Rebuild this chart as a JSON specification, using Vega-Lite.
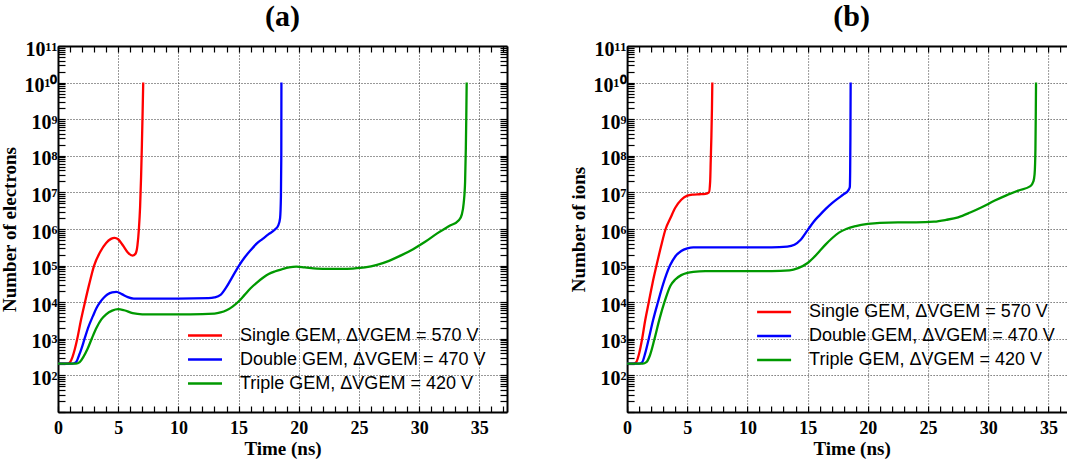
{
  "$schema": "https://vega.github.io/schema/vega-lite/v6.json",
  "padding": {"left": 0, "top": 2, "right": 0, "bottom": 0},
  "spacing": 61.1,
  "background": "white",
  "config": {
    "view": {"stroke": null},
    "font": "Liberation Serif",
    "axis": {
      "domainColor": "black", "domainWidth": 2, "tickColor": "black", "tickWidth": 1.2,
      "labelFont": "Liberation Serif", "labelFontWeight": "bold", "labelFontSize": 18, "labelColor": "black",
      "titleFont": "Liberation Serif", "titleFontWeight": "bold", "titleFontSize": 19, "titleColor": "black",
      "gridColor": "#333333", "gridDash": [1, 2], "gridWidth": 1,
      "labelFlush": false, "labelOverlap": false, "labelBound": false
    },
    "legend": {
      "orient": "none", "title": null, "direction": "vertical",
      "symbolType": "M-3.4,0H3.4", "symbolSize": 100, "symbolStrokeWidth": 2.5,
      "labelFont": "Liberation Sans", "labelFontSize": 18, "labelColor": "black", "labelFontWeight": "normal",
      "labelLimit": 400, "labelOffset": 26, "rowPadding": 6, "padding": 0
    }
  },
  "datasets": {
    "electrons": [
      {"s": "Single GEM, ΔVGEM = 570 V", "t": 0, "n": 2.089e2},
      {"s": "Single GEM, ΔVGEM = 570 V", "t": 0.8, "n": 2.089e2},
      {"s": "Single GEM, ΔVGEM = 570 V", "t": 1.0, "n": 2.291e2},
      {"s": "Single GEM, ΔVGEM = 570 V", "t": 1.2, "n": 3.162e2},
      {"s": "Single GEM, ΔVGEM = 570 V", "t": 1.4, "n": 5.248e2},
      {"s": "Single GEM, ΔVGEM = 570 V", "t": 1.6, "n": 1e3},
      {"s": "Single GEM, ΔVGEM = 570 V", "t": 1.9, "n": 3.162e3},
      {"s": "Single GEM, ΔVGEM = 570 V", "t": 2.24, "n": 1e4},
      {"s": "Single GEM, ΔVGEM = 570 V", "t": 2.6, "n": 3.162e4},
      {"s": "Single GEM, ΔVGEM = 570 V", "t": 3.0, "n": 1e5},
      {"s": "Single GEM, ΔVGEM = 570 V", "t": 3.5, "n": 2.344e5},
      {"s": "Single GEM, ΔVGEM = 570 V", "t": 4.0, "n": 4.169e5},
      {"s": "Single GEM, ΔVGEM = 570 V", "t": 4.4, "n": 5.370e5},
      {"s": "Single GEM, ΔVGEM = 570 V", "t": 4.7, "n": 5.754e5},
      {"s": "Single GEM, ΔVGEM = 570 V", "t": 5.0, "n": 5.248e5},
      {"s": "Single GEM, ΔVGEM = 570 V", "t": 5.4, "n": 3.548e5},
      {"s": "Single GEM, ΔVGEM = 570 V", "t": 5.8, "n": 2.291e5},
      {"s": "Single GEM, ΔVGEM = 570 V", "t": 6.2, "n": 1.862e5},
      {"s": "Single GEM, ΔVGEM = 570 V", "t": 6.45, "n": 2.138e5},
      {"s": "Single GEM, ΔVGEM = 570 V", "t": 6.6, "n": 3.548e5},
      {"s": "Single GEM, ΔVGEM = 570 V", "t": 6.72, "n": 1e6},
      {"s": "Single GEM, ΔVGEM = 570 V", "t": 6.82, "n": 3.981e6},
      {"s": "Single GEM, ΔVGEM = 570 V", "t": 6.9, "n": 2.512e7},
      {"s": "Single GEM, ΔVGEM = 570 V", "t": 6.97, "n": 1.995e8},
      {"s": "Single GEM, ΔVGEM = 570 V", "t": 7.03, "n": 1.585e9},
      {"s": "Single GEM, ΔVGEM = 570 V", "t": 7.08, "n": 1e10},
      {"s": "Double GEM, ΔVGEM = 470 V", "t": 0, "n": 2.089e2},
      {"s": "Double GEM, ΔVGEM = 470 V", "t": 1.2, "n": 2.089e2},
      {"s": "Double GEM, ΔVGEM = 470 V", "t": 1.5, "n": 2.291e2},
      {"s": "Double GEM, ΔVGEM = 470 V", "t": 1.75, "n": 3.548e2},
      {"s": "Double GEM, ΔVGEM = 470 V", "t": 2.0, "n": 6.026e2},
      {"s": "Double GEM, ΔVGEM = 470 V", "t": 2.16, "n": 8.913e2},
      {"s": "Double GEM, ΔVGEM = 470 V", "t": 2.5, "n": 1.995e3},
      {"s": "Double GEM, ΔVGEM = 470 V", "t": 2.9, "n": 4.169e3},
      {"s": "Double GEM, ΔVGEM = 470 V", "t": 3.2, "n": 6.918e3},
      {"s": "Double GEM, ΔVGEM = 470 V", "t": 3.5, "n": 1e4},
      {"s": "Double GEM, ΔVGEM = 470 V", "t": 3.8, "n": 1.318e4},
      {"s": "Double GEM, ΔVGEM = 470 V", "t": 4.1, "n": 1.622e4},
      {"s": "Double GEM, ΔVGEM = 470 V", "t": 4.5, "n": 1.862e4},
      {"s": "Double GEM, ΔVGEM = 470 V", "t": 4.85, "n": 1.905e4},
      {"s": "Double GEM, ΔVGEM = 470 V", "t": 5.3, "n": 1.660e4},
      {"s": "Double GEM, ΔVGEM = 470 V", "t": 5.8, "n": 1.380e4},
      {"s": "Double GEM, ΔVGEM = 470 V", "t": 6.3, "n": 1.259e4},
      {"s": "Double GEM, ΔVGEM = 470 V", "t": 8, "n": 1.259e4},
      {"s": "Double GEM, ΔVGEM = 470 V", "t": 10, "n": 1.259e4},
      {"s": "Double GEM, ΔVGEM = 470 V", "t": 12.5, "n": 1.288e4},
      {"s": "Double GEM, ΔVGEM = 470 V", "t": 13.0, "n": 1.349e4},
      {"s": "Double GEM, ΔVGEM = 470 V", "t": 13.5, "n": 1.585e4},
      {"s": "Double GEM, ΔVGEM = 470 V", "t": 14.0, "n": 2.630e4},
      {"s": "Double GEM, ΔVGEM = 470 V", "t": 14.5, "n": 5.012e4},
      {"s": "Double GEM, ΔVGEM = 470 V", "t": 15.0, "n": 9.550e4},
      {"s": "Double GEM, ΔVGEM = 470 V", "t": 15.5, "n": 1.660e5},
      {"s": "Double GEM, ΔVGEM = 470 V", "t": 16.0, "n": 2.630e5},
      {"s": "Double GEM, ΔVGEM = 470 V", "t": 16.5, "n": 3.981e5},
      {"s": "Double GEM, ΔVGEM = 470 V", "t": 17.0, "n": 5.370e5},
      {"s": "Double GEM, ΔVGEM = 470 V", "t": 17.5, "n": 7.244e5},
      {"s": "Double GEM, ΔVGEM = 470 V", "t": 18.0, "n": 9.550e5},
      {"s": "Double GEM, ΔVGEM = 470 V", "t": 18.3, "n": 1.259e6},
      {"s": "Double GEM, ΔVGEM = 470 V", "t": 18.45, "n": 1.995e6},
      {"s": "Double GEM, ΔVGEM = 470 V", "t": 18.52, "n": 7.943e6},
      {"s": "Double GEM, ΔVGEM = 470 V", "t": 18.55, "n": 1e8},
      {"s": "Double GEM, ΔVGEM = 470 V", "t": 18.56, "n": 1e10},
      {"s": "Triple GEM, ΔVGEM = 420 V", "t": 0, "n": 2.089e2},
      {"s": "Triple GEM, ΔVGEM = 420 V", "t": 1.5, "n": 2.089e2},
      {"s": "Triple GEM, ΔVGEM = 420 V", "t": 1.8, "n": 2.291e2},
      {"s": "Triple GEM, ΔVGEM = 420 V", "t": 2.1, "n": 3.162e2},
      {"s": "Triple GEM, ΔVGEM = 420 V", "t": 2.45, "n": 5.248e2},
      {"s": "Triple GEM, ΔVGEM = 420 V", "t": 2.8, "n": 1e3},
      {"s": "Triple GEM, ΔVGEM = 420 V", "t": 3.2, "n": 1.995e3},
      {"s": "Triple GEM, ΔVGEM = 420 V", "t": 3.6, "n": 3.388e3},
      {"s": "Triple GEM, ΔVGEM = 420 V", "t": 4.0, "n": 4.677e3},
      {"s": "Triple GEM, ΔVGEM = 420 V", "t": 4.5, "n": 5.888e3},
      {"s": "Triple GEM, ΔVGEM = 420 V", "t": 5.0, "n": 6.457e3},
      {"s": "Triple GEM, ΔVGEM = 420 V", "t": 5.5, "n": 6.026e3},
      {"s": "Triple GEM, ΔVGEM = 420 V", "t": 6.2, "n": 5.012e3},
      {"s": "Triple GEM, ΔVGEM = 420 V", "t": 7.0, "n": 4.677e3},
      {"s": "Triple GEM, ΔVGEM = 420 V", "t": 9, "n": 4.677e3},
      {"s": "Triple GEM, ΔVGEM = 420 V", "t": 11, "n": 4.677e3},
      {"s": "Triple GEM, ΔVGEM = 420 V", "t": 13.0, "n": 4.898e3},
      {"s": "Triple GEM, ΔVGEM = 420 V", "t": 13.5, "n": 5.248e3},
      {"s": "Triple GEM, ΔVGEM = 420 V", "t": 14.0, "n": 6.026e3},
      {"s": "Triple GEM, ΔVGEM = 420 V", "t": 14.5, "n": 7.586e3},
      {"s": "Triple GEM, ΔVGEM = 420 V", "t": 15.0, "n": 1.047e4},
      {"s": "Triple GEM, ΔVGEM = 420 V", "t": 15.5, "n": 1.585e4},
      {"s": "Triple GEM, ΔVGEM = 420 V", "t": 16.0, "n": 2.399e4},
      {"s": "Triple GEM, ΔVGEM = 420 V", "t": 16.5, "n": 3.388e4},
      {"s": "Triple GEM, ΔVGEM = 420 V", "t": 17.0, "n": 4.571e4},
      {"s": "Triple GEM, ΔVGEM = 420 V", "t": 17.5, "n": 5.888e4},
      {"s": "Triple GEM, ΔVGEM = 420 V", "t": 18.0, "n": 6.918e4},
      {"s": "Triple GEM, ΔVGEM = 420 V", "t": 18.6, "n": 7.943e4},
      {"s": "Triple GEM, ΔVGEM = 420 V", "t": 19.2, "n": 8.913e4},
      {"s": "Triple GEM, ΔVGEM = 420 V", "t": 19.8, "n": 9.333e4},
      {"s": "Triple GEM, ΔVGEM = 420 V", "t": 20.5, "n": 8.913e4},
      {"s": "Triple GEM, ΔVGEM = 420 V", "t": 21.5, "n": 8.318e4},
      {"s": "Triple GEM, ΔVGEM = 420 V", "t": 22.5, "n": 8.128e4},
      {"s": "Triple GEM, ΔVGEM = 420 V", "t": 23.5, "n": 8.128e4},
      {"s": "Triple GEM, ΔVGEM = 420 V", "t": 24.5, "n": 8.318e4},
      {"s": "Triple GEM, ΔVGEM = 420 V", "t": 25.5, "n": 8.913e4},
      {"s": "Triple GEM, ΔVGEM = 420 V", "t": 26.5, "n": 1.047e5},
      {"s": "Triple GEM, ΔVGEM = 420 V", "t": 27.5, "n": 1.349e5},
      {"s": "Triple GEM, ΔVGEM = 420 V", "t": 28.5, "n": 1.905e5},
      {"s": "Triple GEM, ΔVGEM = 420 V", "t": 29.5, "n": 2.818e5},
      {"s": "Triple GEM, ΔVGEM = 420 V", "t": 30.5, "n": 4.467e5},
      {"s": "Triple GEM, ΔVGEM = 420 V", "t": 31.5, "n": 7.586e5},
      {"s": "Triple GEM, ΔVGEM = 420 V", "t": 32.5, "n": 1.202e6},
      {"s": "Triple GEM, ΔVGEM = 420 V", "t": 33.3, "n": 1.738e6},
      {"s": "Triple GEM, ΔVGEM = 420 V", "t": 33.55, "n": 2.512e6},
      {"s": "Triple GEM, ΔVGEM = 420 V", "t": 33.7, "n": 5.012e6},
      {"s": "Triple GEM, ΔVGEM = 420 V", "t": 33.82, "n": 1.995e7},
      {"s": "Triple GEM, ΔVGEM = 420 V", "t": 33.88, "n": 1.585e8},
      {"s": "Triple GEM, ΔVGEM = 420 V", "t": 33.92, "n": 1.259e9},
      {"s": "Triple GEM, ΔVGEM = 420 V", "t": 33.95, "n": 1e10}
    ],
    "ions": [
      {"s": "Single GEM, ΔVGEM = 570 V", "t": 0, "n": 2.089e2},
      {"s": "Single GEM, ΔVGEM = 570 V", "t": 0.5, "n": 2.089e2},
      {"s": "Single GEM, ΔVGEM = 570 V", "t": 0.75, "n": 2.291e2},
      {"s": "Single GEM, ΔVGEM = 570 V", "t": 1.0, "n": 3.981e2},
      {"s": "Single GEM, ΔVGEM = 570 V", "t": 1.25, "n": 1e3},
      {"s": "Single GEM, ΔVGEM = 570 V", "t": 1.5, "n": 3.162e3},
      {"s": "Single GEM, ΔVGEM = 570 V", "t": 1.8, "n": 1e4},
      {"s": "Single GEM, ΔVGEM = 570 V", "t": 2.1, "n": 3.162e4},
      {"s": "Single GEM, ΔVGEM = 570 V", "t": 2.44, "n": 1e5},
      {"s": "Single GEM, ΔVGEM = 570 V", "t": 2.8, "n": 3.162e5},
      {"s": "Single GEM, ΔVGEM = 570 V", "t": 3.2, "n": 1e6},
      {"s": "Single GEM, ΔVGEM = 570 V", "t": 3.6, "n": 1.995e6},
      {"s": "Single GEM, ΔVGEM = 570 V", "t": 4.0, "n": 3.802e6},
      {"s": "Single GEM, ΔVGEM = 570 V", "t": 4.5, "n": 6.310e6},
      {"s": "Single GEM, ΔVGEM = 570 V", "t": 5.0, "n": 8.128e6},
      {"s": "Single GEM, ΔVGEM = 570 V", "t": 5.5, "n": 8.710e6},
      {"s": "Single GEM, ΔVGEM = 570 V", "t": 6.0, "n": 8.913e6},
      {"s": "Single GEM, ΔVGEM = 570 V", "t": 6.5, "n": 9.120e6},
      {"s": "Single GEM, ΔVGEM = 570 V", "t": 6.8, "n": 1e7},
      {"s": "Single GEM, ΔVGEM = 570 V", "t": 6.9, "n": 1.995e7},
      {"s": "Single GEM, ΔVGEM = 570 V", "t": 6.95, "n": 7.943e7},
      {"s": "Single GEM, ΔVGEM = 570 V", "t": 7.0, "n": 3.162e8},
      {"s": "Single GEM, ΔVGEM = 570 V", "t": 7.05, "n": 1.995e9},
      {"s": "Single GEM, ΔVGEM = 570 V", "t": 7.08, "n": 1e10},
      {"s": "Double GEM, ΔVGEM = 470 V", "t": 0, "n": 2.089e2},
      {"s": "Double GEM, ΔVGEM = 470 V", "t": 1.0, "n": 2.089e2},
      {"s": "Double GEM, ΔVGEM = 470 V", "t": 1.25, "n": 2.291e2},
      {"s": "Double GEM, ΔVGEM = 470 V", "t": 1.5, "n": 3.981e2},
      {"s": "Double GEM, ΔVGEM = 470 V", "t": 1.8, "n": 1e3},
      {"s": "Double GEM, ΔVGEM = 470 V", "t": 2.15, "n": 3.162e3},
      {"s": "Double GEM, ΔVGEM = 470 V", "t": 2.56, "n": 1e4},
      {"s": "Double GEM, ΔVGEM = 470 V", "t": 3.0, "n": 3.162e4},
      {"s": "Double GEM, ΔVGEM = 470 V", "t": 3.56, "n": 1e5},
      {"s": "Double GEM, ΔVGEM = 470 V", "t": 4.0, "n": 1.778e5},
      {"s": "Double GEM, ΔVGEM = 470 V", "t": 4.5, "n": 2.512e5},
      {"s": "Double GEM, ΔVGEM = 470 V", "t": 5.0, "n": 2.951e5},
      {"s": "Double GEM, ΔVGEM = 470 V", "t": 5.5, "n": 3.162e5},
      {"s": "Double GEM, ΔVGEM = 470 V", "t": 6.5, "n": 3.162e5},
      {"s": "Double GEM, ΔVGEM = 470 V", "t": 9, "n": 3.162e5},
      {"s": "Double GEM, ΔVGEM = 470 V", "t": 12, "n": 3.162e5},
      {"s": "Double GEM, ΔVGEM = 470 V", "t": 13.3, "n": 3.311e5},
      {"s": "Double GEM, ΔVGEM = 470 V", "t": 13.9, "n": 3.715e5},
      {"s": "Double GEM, ΔVGEM = 470 V", "t": 14.4, "n": 5.012e5},
      {"s": "Double GEM, ΔVGEM = 470 V", "t": 15.0, "n": 9.333e5},
      {"s": "Double GEM, ΔVGEM = 470 V", "t": 15.5, "n": 1.585e6},
      {"s": "Double GEM, ΔVGEM = 470 V", "t": 16.0, "n": 2.399e6},
      {"s": "Double GEM, ΔVGEM = 470 V", "t": 16.5, "n": 3.548e6},
      {"s": "Double GEM, ΔVGEM = 470 V", "t": 17.0, "n": 5.012e6},
      {"s": "Double GEM, ΔVGEM = 470 V", "t": 17.5, "n": 6.761e6},
      {"s": "Double GEM, ΔVGEM = 470 V", "t": 18.0, "n": 8.913e6},
      {"s": "Double GEM, ΔVGEM = 470 V", "t": 18.4, "n": 1.175e7},
      {"s": "Double GEM, ΔVGEM = 470 V", "t": 18.5, "n": 1.413e7},
      {"s": "Double GEM, ΔVGEM = 470 V", "t": 18.53, "n": 3.981e7},
      {"s": "Double GEM, ΔVGEM = 470 V", "t": 18.55, "n": 3.162e8},
      {"s": "Double GEM, ΔVGEM = 470 V", "t": 18.57, "n": 1e10},
      {"s": "Triple GEM, ΔVGEM = 420 V", "t": 0, "n": 2.089e2},
      {"s": "Triple GEM, ΔVGEM = 420 V", "t": 1.3, "n": 2.089e2},
      {"s": "Triple GEM, ΔVGEM = 420 V", "t": 1.6, "n": 2.291e2},
      {"s": "Triple GEM, ΔVGEM = 420 V", "t": 1.9, "n": 3.548e2},
      {"s": "Triple GEM, ΔVGEM = 420 V", "t": 2.28, "n": 1e3},
      {"s": "Triple GEM, ΔVGEM = 420 V", "t": 2.7, "n": 3.548e3},
      {"s": "Triple GEM, ΔVGEM = 420 V", "t": 3.1, "n": 1e4},
      {"s": "Triple GEM, ΔVGEM = 420 V", "t": 3.6, "n": 2.818e4},
      {"s": "Triple GEM, ΔVGEM = 420 V", "t": 4.0, "n": 4.169e4},
      {"s": "Triple GEM, ΔVGEM = 420 V", "t": 4.5, "n": 5.495e4},
      {"s": "Triple GEM, ΔVGEM = 420 V", "t": 5.0, "n": 6.310e4},
      {"s": "Triple GEM, ΔVGEM = 420 V", "t": 5.5, "n": 6.761e4},
      {"s": "Triple GEM, ΔVGEM = 420 V", "t": 6.5, "n": 7.079e4},
      {"s": "Triple GEM, ΔVGEM = 420 V", "t": 9, "n": 7.079e4},
      {"s": "Triple GEM, ΔVGEM = 420 V", "t": 12, "n": 7.079e4},
      {"s": "Triple GEM, ΔVGEM = 420 V", "t": 13.5, "n": 7.413e4},
      {"s": "Triple GEM, ΔVGEM = 420 V", "t": 14.2, "n": 8.511e4},
      {"s": "Triple GEM, ΔVGEM = 420 V", "t": 15.0, "n": 1.175e5},
      {"s": "Triple GEM, ΔVGEM = 420 V", "t": 15.5, "n": 1.660e5},
      {"s": "Triple GEM, ΔVGEM = 420 V", "t": 16.0, "n": 2.512e5},
      {"s": "Triple GEM, ΔVGEM = 420 V", "t": 16.5, "n": 3.802e5},
      {"s": "Triple GEM, ΔVGEM = 420 V", "t": 17.0, "n": 5.495e5},
      {"s": "Triple GEM, ΔVGEM = 420 V", "t": 17.6, "n": 7.943e5},
      {"s": "Triple GEM, ΔVGEM = 420 V", "t": 18.2, "n": 1e6},
      {"s": "Triple GEM, ΔVGEM = 420 V", "t": 19.0, "n": 1.202e6},
      {"s": "Triple GEM, ΔVGEM = 420 V", "t": 20.0, "n": 1.380e6},
      {"s": "Triple GEM, ΔVGEM = 420 V", "t": 21.0, "n": 1.479e6},
      {"s": "Triple GEM, ΔVGEM = 420 V", "t": 22.5, "n": 1.514e6},
      {"s": "Triple GEM, ΔVGEM = 420 V", "t": 24.0, "n": 1.514e6},
      {"s": "Triple GEM, ΔVGEM = 420 V", "t": 25.5, "n": 1.585e6},
      {"s": "Triple GEM, ΔVGEM = 420 V", "t": 26.5, "n": 1.778e6},
      {"s": "Triple GEM, ΔVGEM = 420 V", "t": 27.5, "n": 2.089e6},
      {"s": "Triple GEM, ΔVGEM = 420 V", "t": 28.5, "n": 2.818e6},
      {"s": "Triple GEM, ΔVGEM = 420 V", "t": 29.5, "n": 3.981e6},
      {"s": "Triple GEM, ΔVGEM = 420 V", "t": 30.5, "n": 5.888e6},
      {"s": "Triple GEM, ΔVGEM = 420 V", "t": 31.5, "n": 8.318e6},
      {"s": "Triple GEM, ΔVGEM = 420 V", "t": 32.5, "n": 1.122e7},
      {"s": "Triple GEM, ΔVGEM = 420 V", "t": 33.5, "n": 1.479e7},
      {"s": "Triple GEM, ΔVGEM = 420 V", "t": 33.75, "n": 1.995e7},
      {"s": "Triple GEM, ΔVGEM = 420 V", "t": 33.85, "n": 3.162e7},
      {"s": "Triple GEM, ΔVGEM = 420 V", "t": 33.92, "n": 1.585e8},
      {"s": "Triple GEM, ΔVGEM = 420 V", "t": 33.95, "n": 1.585e9},
      {"s": "Triple GEM, ΔVGEM = 420 V", "t": 33.97, "n": 1e10}
    ]
  },
  "resolve": {"scale": {"color": "independent"}, "legend": {"color": "independent"}},
  "hconcat": [
    {
      "width": 449,
      "height": 366,
      "title": {"text": "(a)", "font": "Liberation Serif", "fontSize": 30, "fontWeight": "bold", "color": "black", "frame": "group", "anchor": "middle", "baseline": "alphabetic", "offset": -17},
      "data": {"name": "electrons"},
      "resolve": {"axis": {"x": "independent", "y": "independent"}},
      "layer": [
        {
          "transform": [{"filter": "datum.s != 'Triple GEM, ΔVGEM = 420 V'"}],
          "mark": {"type": "line", "interpolate": "monotone", "strokeWidth": 2.3},
          "encoding": {
            "x": {"field": "t", "type": "quantitative",
              "scale": {"domain": [0, 37.3], "nice": false, "zero": false},
              "axis": {"orient": "bottom", "title": "Time (ns)", "titlePadding": 2,
                "values": [0,1,2,3,4,5,6,7,8,9,10,11,12,13,14,15,16,17,18,19,20,21,22,23,24,25,26,27,28,29,30,31,32,33,34,35,36,37],
                "labelExpr": "datum.value % 5 == 0 ? datum.label : ''",
                "grid": true,
                "gridOpacity": {"condition": {"test": "datum.value % 5 == 0", "value": 1}, "value": 0},
                "tickSize": -6,
                "labelPadding": 13.5}},
            "y": {"field": "n", "type": "quantitative",
              "scale": {"type": "log", "domain": [10, 1e11], "nice": false},
              "axis": {"orient": "left", "title": "Number of electrons", "titlePadding": 5,
                "values": [1e1,2e1,3e1,4e1,5e1,6e1,7e1,8e1,9e1,1e2,2e2,3e2,4e2,5e2,6e2,7e2,8e2,9e2,1e3,2e3,3e3,4e3,5e3,6e3,7e3,8e3,9e3,1e4,2e4,3e4,4e4,5e4,6e4,7e4,8e4,9e4,1e5,2e5,3e5,4e5,5e5,6e5,7e5,8e5,9e5,1e6,2e6,3e6,4e6,5e6,6e6,7e6,8e6,9e6,1e7,2e7,3e7,4e7,5e7,6e7,7e7,8e7,9e7,1e8,2e8,3e8,4e8,5e8,6e8,7e8,8e8,9e8,1e9,2e9,3e9,4e9,5e9,6e9,7e9,8e9,9e9,1e10,2e10,3e10,4e10,5e10,6e10,7e10,8e10,9e10,1e11],
                "labelExpr": "(abs(log(datum.value)/LN10 - round(log(datum.value)/LN10)) < 0.001 && round(log(datum.value)/LN10) >= 2) ? '10' + (round(log(datum.value)/LN10) >= 10 ? '¹' + substring('⁰¹²³⁴⁵⁶⁷⁸⁹', round(log(datum.value)/LN10) - 10, round(log(datum.value)/LN10) - 9) : substring('⁰¹²³⁴⁵⁶⁷⁸⁹', round(log(datum.value)/LN10), round(log(datum.value)/LN10) + 1)) : ''",
                "grid": true,
                "gridOpacity": {"condition": {"test": "abs(log(datum.value)/LN10 - round(log(datum.value)/LN10)) < 0.001", "value": 1}, "value": 0},
                "tickSize": -7,
                "labelFontSize": 20,
                "labelPadding": 8, "labelBaseline": "middle", "labelOffset": 3}},
            "color": {"field": "s", "type": "nominal",
              "scale": {"domain": ["Single GEM, ΔVGEM = 570 V", "Double GEM, ΔVGEM = 470 V", "Triple GEM, ΔVGEM = 420 V"], "range": ["#ff0000", "#0000ff", "#009900"]},
              "legend": {"legendX": 138, "legendY": 280.5}}
          }
        },
        {
          "transform": [{"filter": "datum.s == 'Triple GEM, ΔVGEM = 420 V'"}],
          "mark": {"type": "line", "interpolate": "monotone", "strokeWidth": 2.3},
          "encoding": {
            "x": {"field": "t", "type": "quantitative",
              "scale": {"domain": [0, 37.3], "nice": false, "zero": false},
              "axis": {"orient": "top", "title": null, "labels": false, "grid": false,
                "values": [0,1,2,3,4,5,6,7,8,9,10,11,12,13,14,15,16,17,18,19,20,21,22,23,24,25,26,27,28,29,30,31,32,33,34,35,36,37],
                "tickSize": -6}},
            "y": {"field": "n", "type": "quantitative",
              "scale": {"type": "log", "domain": [10, 1e11], "nice": false},
              "axis": {"orient": "right", "title": null, "labels": false, "grid": false,
                "values": [1e1,2e1,3e1,4e1,5e1,6e1,7e1,8e1,9e1,1e2,2e2,3e2,4e2,5e2,6e2,7e2,8e2,9e2,1e3,2e3,3e3,4e3,5e3,6e3,7e3,8e3,9e3,1e4,2e4,3e4,4e4,5e4,6e4,7e4,8e4,9e4,1e5,2e5,3e5,4e5,5e5,6e5,7e5,8e5,9e5,1e6,2e6,3e6,4e6,5e6,6e6,7e6,8e6,9e6,1e7,2e7,3e7,4e7,5e7,6e7,7e7,8e7,9e7,1e8,2e8,3e8,4e8,5e8,6e8,7e8,8e8,9e8,1e9,2e9,3e9,4e9,5e9,6e9,7e9,8e9,9e9,1e10,2e10,3e10,4e10,5e10,6e10,7e10,8e10,9e10,1e11],
                "tickSize": -7}},
            "color": {"field": "s", "type": "nominal",
              "scale": {"domain": ["Single GEM, ΔVGEM = 570 V", "Double GEM, ΔVGEM = 470 V", "Triple GEM, ΔVGEM = 420 V"], "range": ["#ff0000", "#0000ff", "#009900"]},
              "legend": {"legendX": 138, "legendY": 280.5}}
          }
        }
      ]
    },
    {
      "width": 440,
      "height": 366,
      "title": {"text": "(b)", "font": "Liberation Serif", "fontSize": 30, "fontWeight": "bold", "color": "black", "frame": "group", "anchor": "middle", "baseline": "alphabetic", "offset": -17, "dx": 4.5},
      "data": {"name": "ions"},
      "resolve": {"axis": {"x": "independent", "y": "independent"}},
      "layer": [
        {
          "transform": [{"filter": "datum.s != 'Triple GEM, ΔVGEM = 420 V'"}],
          "mark": {"type": "line", "interpolate": "monotone", "strokeWidth": 2.3},
          "encoding": {
            "x": {"field": "t", "type": "quantitative",
              "scale": {"domain": [0, 36.55], "nice": false, "zero": false},
              "axis": {"orient": "bottom", "title": "Time (ns)", "titlePadding": 2, "titleX": 224.5,
                "values": [0,1,2,3,4,5,6,7,8,9,10,11,12,13,14,15,16,17,18,19,20,21,22,23,24,25,26,27,28,29,30,31,32,33,34,35,36],
                "labelExpr": "datum.value % 5 == 0 ? datum.label : ''",
                "grid": true,
                "gridOpacity": {"condition": {"test": "datum.value % 5 == 0", "value": 1}, "value": 0},
                "tickSize": -6,
                "labelPadding": 13.5}},
            "y": {"field": "n", "type": "quantitative",
              "scale": {"type": "log", "domain": [10, 1e11], "nice": false},
              "axis": {"orient": "left", "title": "Number of ions", "titlePadding": 5,
                "values": [1e1,2e1,3e1,4e1,5e1,6e1,7e1,8e1,9e1,1e2,2e2,3e2,4e2,5e2,6e2,7e2,8e2,9e2,1e3,2e3,3e3,4e3,5e3,6e3,7e3,8e3,9e3,1e4,2e4,3e4,4e4,5e4,6e4,7e4,8e4,9e4,1e5,2e5,3e5,4e5,5e5,6e5,7e5,8e5,9e5,1e6,2e6,3e6,4e6,5e6,6e6,7e6,8e6,9e6,1e7,2e7,3e7,4e7,5e7,6e7,7e7,8e7,9e7,1e8,2e8,3e8,4e8,5e8,6e8,7e8,8e8,9e8,1e9,2e9,3e9,4e9,5e9,6e9,7e9,8e9,9e9,1e10,2e10,3e10,4e10,5e10,6e10,7e10,8e10,9e10,1e11],
                "labelExpr": "(abs(log(datum.value)/LN10 - round(log(datum.value)/LN10)) < 0.001 && round(log(datum.value)/LN10) >= 2) ? '10' + (round(log(datum.value)/LN10) >= 10 ? '¹' + substring('⁰¹²³⁴⁵⁶⁷⁸⁹', round(log(datum.value)/LN10) - 10, round(log(datum.value)/LN10) - 9) : substring('⁰¹²³⁴⁵⁶⁷⁸⁹', round(log(datum.value)/LN10), round(log(datum.value)/LN10) + 1)) : ''",
                "grid": true,
                "gridOpacity": {"condition": {"test": "abs(log(datum.value)/LN10 - round(log(datum.value)/LN10)) < 0.001", "value": 1}, "value": 0},
                "tickSize": -7,
                "labelFontSize": 20,
                "labelPadding": 8, "labelBaseline": "middle", "labelOffset": 3}},
            "color": {"field": "s", "type": "nominal",
              "scale": {"domain": ["Single GEM, ΔVGEM = 570 V", "Double GEM, ΔVGEM = 470 V", "Triple GEM, ΔVGEM = 420 V"], "range": ["#ff0000", "#0000ff", "#009900"]},
              "legend": {"legendX": 138, "legendY": 257}}
          }
        },
        {
          "transform": [{"filter": "datum.s == 'Triple GEM, ΔVGEM = 420 V'"}],
          "mark": {"type": "line", "interpolate": "monotone", "strokeWidth": 2.3},
          "encoding": {
            "x": {"field": "t", "type": "quantitative",
              "scale": {"domain": [0, 36.55], "nice": false, "zero": false},
              "axis": {"orient": "top", "title": null, "labels": false, "grid": false,
                "values": [0,1,2,3,4,5,6,7,8,9,10,11,12,13,14,15,16,17,18,19,20,21,22,23,24,25,26,27,28,29,30,31,32,33,34,35,36],
                "tickSize": -6}},
            "y": {"field": "n", "type": "quantitative",
              "scale": {"type": "log", "domain": [10, 1e11], "nice": false},
              "axis": null},
            "color": {"field": "s", "type": "nominal",
              "scale": {"domain": ["Single GEM, ΔVGEM = 570 V", "Double GEM, ΔVGEM = 470 V", "Triple GEM, ΔVGEM = 420 V"], "range": ["#ff0000", "#0000ff", "#009900"]},
              "legend": {"legendX": 138, "legendY": 257}}
          }
        }
      ]
    }
  ]
}
